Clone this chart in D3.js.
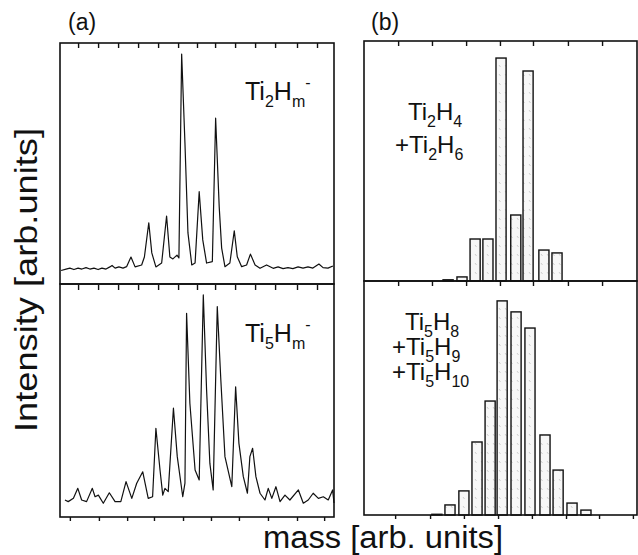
<!DOCTYPE html>
<html>
<head>
<meta charset="utf-8">
<script src="https://cdn.jsdelivr.net/npm/d3@7/dist/d3.min.js"></script>
<style>
  body { margin: 0; background: #fff; }
  svg text { font-family: "Liberation Sans", Arial, Helvetica, sans-serif; fill: #111; }
</style>
</head>
<body>
<svg id="chart" width="638" height="555"></svg>
<script>
// ---- data (mass and intensity both in arb. units, 0..100) ----
// (a) measured spectrum, Ti2Hm-  : [mass, intensity]
const specTi2 = [
  [0.4,5.6],[2.2,6.2],[3.6,6.6],[5.1,6.0],[6.6,6.6],[8.0,6.2],[9.5,6.8],[10.9,6.2],[12.4,6.6],
  [13.9,6.0],[15.3,6.6],[16.8,6.2],[18.2,7.1],[19.0,7.7],[20.1,6.6],[21.5,7.1],[23.0,6.6],
  [24.3,7.2],[25.9,11.2],[27.4,7.1],[29.8,7.9],[30.8,11.2],[32.4,25.4],[33.5,12.9],[35.0,7.1],
  [37.1,8.7],[38.9,28.2],[40.1,11.2],[41.2,10.4],[42.7,12.0],[43.4,10.8],[44.4,95.4],[45.6,58.5],
  [46.7,21.2],[48.1,7.9],[49.3,8.7],[50.8,38.3],[52.1,18.3],[53.5,8.7],[55.6,9.3],[56.8,68.8],
  [58.1,32.1],[59.0,14.9],[60.2,7.2],[62.0,8.7],[63.6,22.1],[64.7,11.3],[66.3,7.2],[68.1,7.9],
  [69.5,12.4],[71.2,7.9],[73.0,6.5],[75.4,7.9],[77.8,6.5],[79.6,7.1],[81.4,6.4],[83.2,6.8],
  [85.0,6.4],[86.9,7.1],[88.7,6.6],[90.5,7.1],[92.3,6.6],[94.5,8.3],[96.0,6.8],[97.8,6.6],[99.6,7.5]
];
// (a) measured spectrum, Ti5Hm-
const specTi5 = [
  [1.8,7.3],[3.0,6.6],[4.9,8.0],[6.5,12.3],[7.9,7.3],[9.7,6.6],[11.8,12.3],[12.8,8.7],[14.0,9.4],
  [15.8,5.9],[18.0,10.4],[20.1,6.6],[22.2,6.6],[24.1,15.2],[26.2,8.0],[28.0,14.5],[30.2,19.4],
  [32.2,8.0],[33.8,8.7],[35.0,38.1],[36.5,20.2],[37.5,9.4],[38.3,12.3],[39.5,10.9],[41.4,46.7],
  [42.8,25.9],[44.8,8.7],[45.6,14.5],[46.2,87.4],[47.4,48.8],[49.3,20.2],[50.8,15.9],[52.3,95.3],
  [53.5,54.5],[54.7,23.0],[55.9,11.6],[57.4,90.3],[58.7,58.8],[60.2,25.9],[62.7,13.0],[64.1,55.9],
  [65.3,31.6],[66.9,17.3],[68.4,10.2],[69.3,25.9],[70.3,29.5],[71.5,17.3],[73.0,10.2],[74.8,7.3],
  [76.0,12.3],[77.3,8.0],[78.8,13.0],[80.3,6.6],[82.1,9.4],[83.9,7.3],[87.0,11.6],[88.8,5.9],
  [90.6,7.3],[92.4,10.2],[94.3,8.0],[96.1,8.7],[97.9,7.3],[99.5,11.6],[100,6.0]
];
// (b) simulated sticks, Ti2H4 + Ti2H6
const barMassTi2 = [30.8, 35.9, 40.7, 45.4, 50.2, 55.6, 60.1, 65.9, 70.7];
const barIntTi2  = [0.5, 1.7, 17.5, 17.5, 92.9, 27.5, 87.5, 12.9, 11.7];
// (b) simulated sticks, Ti5H8 + Ti5H9 + Ti5H10
const barMassTi5 = [26.7, 31.5, 36.6, 41.4, 46.2, 50.6, 55.7, 60.8, 66.3, 71.1, 76.2, 81.3];
const barIntTi5  = [0.3, 4.3, 10.3, 31.2, 48.7, 91.5, 86.8, 79.9, 34.2, 19.2, 5.1, 2.1];

// tick positions (mass units)
const ticksInA  = [6.6, 13.9, 21.2, 28.5, 35.8, 43.1, 50.0, 56.6, 63.9, 71.2, 78.5, 86.5, 93.8];
const ticksOutA = [3.6, 14.2, 24.5, 34.3, 44.9, 55.1, 65.3, 75.9, 86.5, 96.4];
const ticksInB  = [12.5, 24.9, 37.4, 49.8, 61.9, 74.7, 87.2];
const ticksOutB = [11.4, 24.2, 36.6, 49.1, 61.5, 74.0, 86.1, 98.5];

// labels
const panelLetters = ["(a)", "(b)"];
const xTitle = "mass [arb. units]";
const yTitle = "Intensity [arb.units]";
const labTi2 = [["Ti","n"],["2","sub"],["H","n"],["m","sub"],["-","sup"]];
const labTi5 = [["Ti","n"],["5","sub"],["H","n"],["m","sub"],["-","sup"]];
const labB1 = [
  [["Ti","n"],["2","sub"],["H","n"],["4","sub"]],
  [["+Ti","n"],["2","sub"],["H","n"],["6","sub"]]
];
const labB2 = [
  [["Ti","n"],["5","sub"],["H","n"],["8","sub"]],
  [["+Ti","n"],["5","sub"],["H","n"],["9","sub"]],
  [["+Ti","n"],["5","sub"],["H","n"],["10","sub"]]
];

// ---- layout ----
const svg = d3.select("#chart");
const ink = "#111";

const xA = d3.scaleLinear().domain([0,100]).range([60,334]);
const xB = d3.scaleLinear().domain([0,100]).range([364,637]);
const yA1 = d3.scaleLinear().domain([0,100]).range([284,43]);
const yA2 = d3.scaleLinear().domain([0,100]).range([517,284]);
const yB1 = d3.scaleLinear().domain([0,100]).range([281,41]);
const yB2 = d3.scaleLinear().domain([0,100]).range([515,281]);

function frame(x, y) {
  svg.append("rect")
    .attr("x", x.range()[0]).attr("y", y.range()[1])
    .attr("width", x.range()[1]-x.range()[0])
    .attr("height", y.range()[0]-y.range()[1])
    .attr("fill","none").attr("stroke",ink).attr("stroke-width",1.6);
}

function ticks(axisFn, x, yPos, vals, size) {
  const g = svg.append("g")
    .attr("transform", `translate(0,${yPos})`)
    .call(axisFn(x).tickValues(vals).tickSize(size).tickFormat(""));
  g.select(".domain").remove();
  g.selectAll("line").attr("stroke", ink).attr("stroke-width", 1.4);
}

// spectra
function spectrum(data, x, y) {
  const line = d3.line().x(d => x(d[0])).y(d => y(d[1]));
  svg.append("path").datum(data)
    .attr("d", line).attr("fill","none")
    .attr("stroke", ink).attr("stroke-width", 1.2)
    .attr("stroke-linejoin","round");
}

// bars
const defs = svg.append("defs");
const pat = defs.append("pattern").attr("id","stip")
  .attr("patternUnits","userSpaceOnUse").attr("width",6).attr("height",9);
pat.append("rect").attr("width",6).attr("height",9).attr("fill","#f7f7f7");
pat.append("line").attr("x1",1).attr("y1",2).attr("x2",2.5).attr("y2",4)
  .attr("stroke","#bbb").attr("stroke-width",0.7);

function bars(mass, inten, x, y) {
  const w = x(3.7) - x(0);
  svg.append("g").selectAll("rect")
    .data(mass.map((m,i) => ({m, v: inten[i]})))
    .join("rect")
    .attr("x", d => x(d.m) - w/2)
    .attr("y", d => y(d.v))
    .attr("width", w)
    .attr("height", d => y(0) - y(d.v))
    .attr("fill","url(#stip)")
    .attr("stroke", ink).attr("stroke-width", 1.4);
}

spectrum(specTi2, xA, yA1);
spectrum(specTi5, xA, yA2);
bars(barMassTi2, barIntTi2, xB, yB1);
bars(barMassTi5, barIntTi5, xB, yB2);

frame(xA, yA1); frame(xA, yA2);
frame(xB, yB1); frame(xB, yB2);

ticks(d3.axisBottom, xA, 43, ticksInA, 5);
ticks(d3.axisBottom, xA, 285, ticksInA, 5);
ticks(d3.axisBottom, xA, 517, ticksOutA, 4);
ticks(d3.axisBottom, xB, 41, ticksInB, 5);
ticks(d3.axisBottom, xB, 281, ticksInB, 5);
ticks(d3.axisBottom, xB, 515, ticksOutB, 4);

// chemical labels
function formula(parts, x0, y0, big, small) {
  const t = svg.append("text").attr("x", x0).attr("y", y0).attr("font-size", big);
  let shift = 0;
  parts.forEach(([s, kind]) => {
    const target = kind === "sub" ? 7 : kind === "sup" ? -12 : 0;
    t.append("tspan").text(s)
      .attr("dy", target - shift)
      .attr("font-size", kind === "n" ? big : small);
    shift = target;
  });
}
formula(labTi2, 245, 100, 25, 16);
formula(labTi5, 245, 342, 25, 16);
labB1.forEach((p, i) => formula(p, i === 0 ? 408 : 395, 120 + i*33, 24, 16));
labB2.forEach((p, i) => formula(p, i === 0 ? 405 : 392, 330 + i*25, 24, 16));

// panel letters
svg.append("text").attr("x", 68).attr("y", 30).attr("font-size", 23).text(panelLetters[0]);
svg.append("text").attr("x", 371).attr("y", 30).attr("font-size", 23).text(panelLetters[1]);

// axis titles
svg.append("text").attr("x", 383).attr("y", 548)
  .attr("text-anchor","middle").attr("font-size", 31)
  .attr("textLength", 240).attr("lengthAdjust","spacingAndGlyphs")
  .text(xTitle);
svg.append("text")
  .attr("transform","translate(37,280) rotate(-90)")
  .attr("text-anchor","middle").attr("font-size", 31)
  .attr("textLength", 304).attr("lengthAdjust","spacingAndGlyphs")
  .text(yTitle);
</script>
</body>
</html>
